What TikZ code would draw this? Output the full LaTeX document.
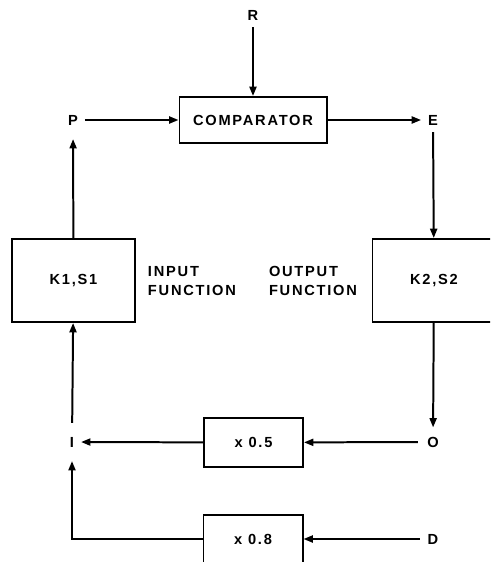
\documentclass[tikz,border=0pt]{standalone}
\usepackage{fontspec}
\newfontfamily\lettering[LetterSpace=12]{Liberation Sans}
\usetikzlibrary{positioning,arrows.meta}

\begin{document}
\begin{tikzpicture}[x=0.03cm,y=-0.03cm,>={Triangle[length=8pt,width=6pt]},line width=1.7pt,
    font=\lettering\bfseries\fontsize{12.5}{16}\selectfont,
    blk/.style={draw,line width=1.7pt,inner sep=0pt},
    sig/.style={inner sep=0pt,outer sep=6pt}]
  \useasboundingbox (0,0) rectangle (490,562);
  \clip (0,0) rectangle (490,562);
  % comparator and reference
  \node[blk,minimum width=4.41cm,minimum height=1.38cm] (cmp) at (253,120) {COMPARATOR};
  \node[sig] (R) at (253,15) {R};
  \node[sig] (P) at (73,120) {P};
  \node[sig] (E) at (433,120) {E};
  % input and output functions
  \node[blk,minimum width=3.69cm,minimum height=2.49cm] (k1) at (73.5,280.5) {K1,S1};
  \node[blk,minimum width=3.69cm,minimum height=2.49cm] (k2) at (434,280.5) {K2,S2};
  \node[anchor=west,align=left,inner sep=0pt] (infn) at (147,281) {INPUT\\FUNCTION};
  \node[anchor=west,align=left,inner sep=0pt] (outfn) at (268,281) {OUTPUT\\FUNCTION};
  % gains
  \node[sig] (I) at (72,442) {I};
  \node[sig,outer sep=8pt] (O) at (433,442) {O};
  \node[sig,outer sep=7pt] (D) at (433,539) {D};
  \node[blk,minimum width=2.97cm,minimum height=1.47cm] (m05) at (253.5,442.5) {x 0.5};
  \node[blk,minimum width=2.97cm,minimum height=1.47cm] (m08) at (253,539) {x 0.8};
  % signal paths
  \draw[->] (R) -- (cmp);
  \draw[->] (P) -- (cmp);
  \draw[->] (cmp) -- (E);
  \draw[->] (E) -- (k2);
  \draw[->] (k2) -- (O);
  \draw[->] (O) -- (m05);
  \draw[->] (m05) -- (I);
  \draw[->,shorten >=6pt] (k1) -- (P);
  \draw[->,shorten <=6pt] (I) -- (k1);
  \draw[->] (D) -- (m08);
  \draw[->,shorten >=6pt] (m08) -| (I);
\end{tikzpicture}
\end{document}
